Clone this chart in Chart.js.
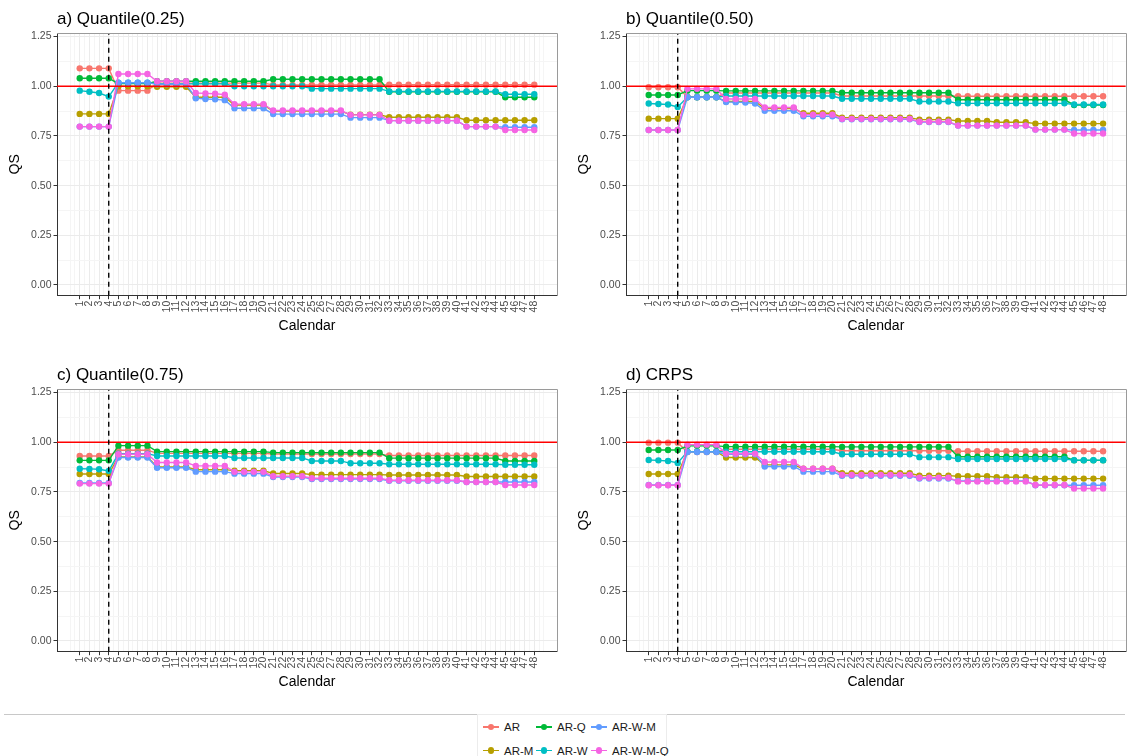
<!DOCTYPE html>
<html>
<head>
<meta charset="utf-8">
<script src="https://cdn.jsdelivr.net/npm/chart.js@4.4.1/dist/chart.umd.min.js"></script>
<style>
  body { margin: 0; width: 1129px; height: 756px; overflow: hidden; background: #fff; position: relative;
         font-family: "Liberation Sans", Arial, Helvetica, sans-serif; }
  .panel { position: absolute; }
  #rule { position: absolute; left: 4px; top: 714px; width: 1121px; border-top: 1px solid #c8c8c8; }
  #legend { position: absolute; left: 477px; top: 714px; width: 190px; height: 60px; background: #fff;
            border: 1px solid #ececec; box-sizing: border-box; }
  .item { position: absolute; height: 14px; font-size: 11.5px; color: #1a1a1a; line-height: 14px; white-space: nowrap; }
  .key { position: absolute; top: 0; width: 16px; height: 14px; }
  .key .ln { position: absolute; left: 0; right: 0; top: 6.3px; height: 1.4px; }
  .key .dot { position: absolute; left: 4.8px; top: 3.8px; width: 6.4px; height: 6.4px; border-radius: 50%; }
</style>
</head>
<body>
<div class="panel" style="left:0;top:0"><canvas id="panelA" width="565" height="345"></canvas></div>
<div class="panel" style="left:569px;top:0"><canvas id="panelB" width="560" height="345"></canvas></div>
<div class="panel" style="left:0;top:356px"><canvas id="panelC" width="565" height="345"></canvas></div>
<div class="panel" style="left:569px;top:356px"><canvas id="panelD" width="560" height="345"></canvas></div>
<div id="rule"></div>
<div id="legend"></div>
<script>
const calendar = [1,2,3,4,5,6,7,8,9,10,11,12,13,14,15,16,17,18,19,20,21,22,23,24,
                  25,26,27,28,29,30,31,32,33,34,35,36,37,38,39,40,41,42,43,44,45,46,47,48];
const seriesNames = ['AR', 'AR-M', 'AR-Q', 'AR-W', 'AR-W-M', 'AR-W-M-Q'];
const seriesColors = ['#F8766D', '#B79F00', '#00BA38', '#00BFC4', '#619CFF', '#F564E3'];
const yTickLabels = ['0.00', '0.25', '0.50', '0.75', '1.00', '1.25'];
const switchPoint = 4;
const reference = 1;

// a) Quantile(0.25)
const q25AR = [1.09,1.09,1.09,1.09, 0.978,0.978,0.978,0.978, 1.016,1.016,1.016,1.016, 1.016,1.016,1.016,1.016, 1.016,1.016,1.016,1.016,
  1.007,1.007,1.007,1.007, 1.007,1.007,1.007,1.007, 1.007,1.007,1.007,1.007, 1.008,1.008,1.008,1.008, 1.008,1.008,1.008,1.008,
  1.008,1.008,1.008,1.008, 1.008,1.008,1.008,1.008];
const q25ARM = [0.861,0.861,0.861,0.861, 1.0,1.0,1.0,1.0, 0.997,0.997,0.997,0.997, 0.945,0.945,0.945,0.945, 0.906,0.906,0.906,0.906,
  0.875,0.875,0.875,0.875, 0.875,0.875,0.875,0.875, 0.857,0.857,0.857,0.857, 0.844,0.844,0.844,0.844, 0.844,0.844,0.844,0.844,
  0.829,0.829,0.829,0.829, 0.829,0.829,0.829,0.829];
const q25ARQ = [1.04,1.04,1.04,1.04, 1.013,1.013,1.013,1.013, 1.025,1.025,1.025,1.025, 1.025,1.025,1.025,1.025, 1.025,1.025,1.025,1.025,
  1.035,1.035,1.035,1.035, 1.035,1.035,1.035,1.035, 1.035,1.035,1.035,1.035, 0.972,0.972,0.972,0.972, 0.972,0.972,0.972,0.972,
  0.972,0.972,0.972,0.972, 0.945,0.945,0.945,0.945];
const q25ARW = [0.978,0.972,0.966,0.948, 1.018,1.018,1.018,1.018, 1.012,1.012,1.012,1.012, 1.012,1.012,1.012,1.012, 1.0,1.0,1.0,1.0,
  1.0,1.0,1.0,1.0, 0.988,0.988,0.988,0.988, 0.988,0.988,0.988,0.988, 0.974,0.974,0.974,0.974, 0.974,0.974,0.974,0.974,
  0.974,0.974,0.974,0.974, 0.96,0.96,0.96,0.96];
const q25ARWM = [0.797,0.797,0.797,0.797, 1.018,1.018,1.018,1.018, 1.01,1.01,1.01,1.01, 0.94,0.936,0.934,0.93, 0.889,0.889,0.889,0.889,
  0.86,0.86,0.86,0.86, 0.86,0.86,0.86,0.86, 0.842,0.842,0.842,0.842, 0.827,0.827,0.827,0.827, 0.827,0.827,0.827,0.827,
  0.797,0.797,0.797,0.797, 0.794,0.794,0.794,0.794];
const q25ARWMQ = [0.797,0.797,0.797,0.797, 1.062,1.062,1.062,1.062, 1.025,1.025,1.025,1.025, 0.966,0.964,0.962,0.958, 0.91,0.91,0.91,0.91,
  0.878,0.878,0.878,0.878, 0.878,0.878,0.878,0.878, 0.856,0.856,0.856,0.856, 0.827,0.827,0.827,0.827, 0.827,0.827,0.827,0.827,
  0.797,0.797,0.797,0.797, 0.78,0.78,0.78,0.78];

// b) Quantile(0.50)
const q50AR = [0.995,0.995,0.995,0.995, 0.946,0.946,0.946,0.946, 0.966,0.966,0.966,0.966, 0.966,0.966,0.966,0.966, 0.966,0.966,0.966,0.966,
  0.951,0.951,0.951,0.951, 0.951,0.951,0.951,0.951, 0.951,0.951,0.951,0.951, 0.95,0.95,0.95,0.95, 0.95,0.95,0.95,0.95,
  0.95,0.95,0.95,0.95, 0.95,0.95,0.95,0.95];
const q50ARM = [0.837,0.837,0.837,0.837, 0.945,0.945,0.945,0.945, 0.923,0.923,0.923,0.923, 0.888,0.888,0.888,0.888, 0.864,0.864,0.864,0.864,
  0.842,0.842,0.842,0.842, 0.842,0.842,0.842,0.842, 0.832,0.832,0.832,0.832, 0.825,0.825,0.825,0.825, 0.819,0.819,0.819,0.819,
  0.812,0.812,0.812,0.812, 0.812,0.812,0.812,0.812];
const q50ARQ = [0.956,0.956,0.956,0.956, 0.978,0.978,0.978,0.978, 0.977,0.977,0.977,0.977, 0.977,0.977,0.977,0.977, 0.977,0.977,0.977,0.977,
  0.967,0.967,0.967,0.967, 0.967,0.967,0.967,0.967, 0.967,0.967,0.967,0.967, 0.932,0.932,0.932,0.932, 0.932,0.932,0.932,0.932,
  0.932,0.932,0.932,0.932, 0.906,0.906,0.906,0.906];
const q50ARW = [0.913,0.911,0.908,0.896, 0.945,0.945,0.945,0.945, 0.951,0.951,0.951,0.951, 0.951,0.951,0.951,0.951, 0.951,0.951,0.951,0.951,
  0.937,0.937,0.937,0.937, 0.937,0.937,0.937,0.937, 0.923,0.923,0.923,0.923, 0.914,0.914,0.914,0.914, 0.914,0.914,0.914,0.914,
  0.914,0.914,0.914,0.914, 0.908,0.908,0.908,0.908];
const q50ARWM = [0.78,0.78,0.78,0.78, 0.945,0.945,0.945,0.945, 0.921,0.92,0.918,0.913, 0.877,0.877,0.877,0.877, 0.849,0.849,0.849,0.849,
  0.834,0.834,0.834,0.834, 0.834,0.834,0.834,0.834, 0.82,0.82,0.82,0.82, 0.802,0.802,0.802,0.802, 0.802,0.802,0.802,0.802,
  0.782,0.782,0.782,0.782, 0.78,0.78,0.78,0.78];
const q50ARWMQ = [0.78,0.78,0.78,0.78, 0.987,0.987,0.987,0.987, 0.936,0.936,0.936,0.936, 0.893,0.893,0.893,0.893, 0.857,0.857,0.857,0.857,
  0.836,0.836,0.836,0.836, 0.836,0.836,0.836,0.836, 0.822,0.822,0.822,0.822, 0.802,0.802,0.802,0.802, 0.802,0.802,0.802,0.802,
  0.782,0.782,0.782,0.782, 0.762,0.762,0.762,0.762];

// c) Quantile(0.75)
const q75AR = [0.931,0.931,0.931,0.931, 0.96,0.96,0.96,0.96, 0.944,0.944,0.944,0.944, 0.944,0.944,0.944,0.944, 0.944,0.944,0.944,0.944,
  0.941,0.941,0.941,0.941, 0.941,0.941,0.941,0.941, 0.941,0.941,0.941,0.941, 0.933,0.933,0.933,0.933, 0.933,0.933,0.933,0.933,
  0.933,0.933,0.933,0.933, 0.933,0.933,0.933,0.933];
const q75ARM = [0.84,0.84,0.84,0.84, 0.926,0.926,0.926,0.926, 0.876,0.876,0.876,0.876, 0.862,0.862,0.862,0.862, 0.857,0.857,0.857,0.857,
  0.843,0.843,0.843,0.843, 0.837,0.837,0.837,0.837, 0.837,0.837,0.837,0.837, 0.835,0.835,0.835,0.835, 0.835,0.835,0.835,0.835,
  0.828,0.828,0.828,0.828, 0.828,0.828,0.828,0.828];
const q75ARQ = [0.909,0.909,0.909,0.909, 0.983,0.983,0.983,0.983, 0.953,0.953,0.953,0.953, 0.953,0.953,0.953,0.953, 0.953,0.953,0.953,0.953,
  0.948,0.948,0.948,0.948, 0.948,0.948,0.948,0.948, 0.948,0.948,0.948,0.948, 0.92,0.92,0.92,0.92, 0.92,0.92,0.92,0.92,
  0.92,0.92,0.92,0.92, 0.906,0.906,0.906,0.906];
const q75ARW = [0.867,0.866,0.864,0.856, 0.943,0.943,0.943,0.943, 0.931,0.931,0.931,0.931, 0.931,0.931,0.931,0.931, 0.921,0.921,0.921,0.921,
  0.921,0.921,0.921,0.921, 0.906,0.906,0.906,0.906, 0.894,0.894,0.894,0.894, 0.889,0.889,0.889,0.889, 0.889,0.889,0.889,0.889,
  0.889,0.889,0.889,0.889, 0.887,0.887,0.887,0.887];
const q75ARWM = [0.795,0.795,0.795,0.795, 0.923,0.923,0.923,0.923, 0.872,0.872,0.872,0.872, 0.852,0.852,0.852,0.852, 0.842,0.842,0.842,0.842,
  0.825,0.825,0.825,0.825, 0.815,0.815,0.815,0.815, 0.815,0.815,0.815,0.815, 0.806,0.806,0.806,0.806, 0.806,0.806,0.806,0.806,
  0.8,0.8,0.8,0.8, 0.8,0.8,0.8,0.8];
const q75ARWMQ = [0.792,0.792,0.792,0.792, 0.94,0.94,0.94,0.94, 0.898,0.898,0.898,0.898, 0.881,0.881,0.881,0.881, 0.851,0.851,0.851,0.851,
  0.829,0.829,0.829,0.829, 0.819,0.819,0.819,0.819, 0.819,0.819,0.819,0.819, 0.809,0.809,0.809,0.809, 0.809,0.809,0.809,0.809,
  0.8,0.8,0.8,0.8, 0.785,0.785,0.785,0.785];

// d) CRPS
const crpsAR = [0.998,0.998,0.998,0.998, 0.951,0.951,0.951,0.951, 0.965,0.965,0.965,0.965, 0.965,0.965,0.965,0.965, 0.965,0.965,0.965,0.965,
  0.957,0.957,0.957,0.957, 0.957,0.957,0.957,0.957, 0.957,0.957,0.957,0.957, 0.955,0.955,0.955,0.955, 0.955,0.955,0.955,0.955,
  0.955,0.955,0.955,0.955, 0.955,0.955,0.955,0.955];
const crpsARM = [0.84,0.84,0.84,0.84, 0.953,0.953,0.953,0.953, 0.923,0.923,0.923,0.923, 0.886,0.886,0.886,0.886, 0.867,0.867,0.867,0.867,
  0.844,0.844,0.844,0.844, 0.844,0.844,0.844,0.844, 0.832,0.832,0.832,0.832, 0.829,0.829,0.829,0.829, 0.824,0.824,0.824,0.824,
  0.817,0.817,0.817,0.817, 0.817,0.817,0.817,0.817];
const crpsARQ = [0.961,0.961,0.961,0.961, 0.982,0.982,0.982,0.982, 0.978,0.978,0.978,0.978, 0.978,0.978,0.978,0.978, 0.978,0.978,0.978,0.978,
  0.977,0.977,0.977,0.977, 0.977,0.977,0.977,0.977, 0.977,0.977,0.977,0.977, 0.927,0.927,0.927,0.927, 0.927,0.927,0.927,0.927,
  0.927,0.927,0.927,0.927, 0.909,0.909,0.909,0.909];
const crpsARW = [0.911,0.909,0.906,0.896, 0.953,0.953,0.953,0.953, 0.952,0.952,0.952,0.952, 0.952,0.952,0.952,0.952, 0.952,0.952,0.952,0.952,
  0.94,0.94,0.94,0.94, 0.94,0.94,0.94,0.94, 0.925,0.925,0.925,0.925, 0.916,0.916,0.916,0.916, 0.916,0.916,0.916,0.916,
  0.916,0.916,0.916,0.916, 0.91,0.91,0.91,0.91];
const crpsARWM = [0.785,0.785,0.785,0.785, 0.951,0.951,0.951,0.951, 0.94,0.94,0.94,0.94, 0.878,0.878,0.878,0.878, 0.852,0.852,0.852,0.852,
  0.831,0.831,0.831,0.831, 0.831,0.831,0.831,0.831, 0.817,0.817,0.817,0.817, 0.805,0.805,0.805,0.805, 0.805,0.805,0.805,0.805,
  0.784,0.784,0.784,0.784, 0.784,0.784,0.784,0.784];
const crpsARWMQ = [0.784,0.784,0.784,0.784, 0.988,0.988,0.988,0.988, 0.943,0.943,0.943,0.943, 0.901,0.901,0.901,0.901, 0.867,0.867,0.867,0.867,
  0.836,0.836,0.836,0.836, 0.836,0.836,0.836,0.836, 0.822,0.822,0.822,0.822, 0.803,0.803,0.803,0.803, 0.803,0.803,0.803,0.803,
  0.785,0.785,0.785,0.785, 0.767,0.767,0.767,0.767];

const FONT = '"Liberation Sans", Arial, Helvetica, sans-serif';
const X_MIN = -1.35, X_MAX = 50.35;
const Y_MIN = -0.054, Y_MAX = 1.268;

// title drawn above the panel, flush with the plot's left edge
const panelTitle = {
  id: 'panelTitle',
  afterDraw(chart, args, opts) {
    const c = chart.ctx;
    c.save();
    c.font = '17px ' + FONT;
    c.fillStyle = '#000';
    c.textBaseline = 'alphabetic';
    c.fillText(opts.text, chart.chartArea.left, chart.chartArea.top - 9.5);
    c.restore();
  }
};

// grey panel frame on top and right (left/bottom come from the axis borders)
const panelFrame = {
  id: 'panelFrame',
  afterDraw(chart) {
    const { left, right, top, bottom } = chart.chartArea;
    const c = chart.ctx;
    c.save();
    c.strokeStyle = '#9a9a9a';
    c.lineWidth = 1;
    c.beginPath();
    c.moveTo(Math.round(left), Math.round(top) + 0.5);
    c.lineTo(Math.round(right) + 0.5, Math.round(top) + 0.5);
    c.lineTo(Math.round(right) + 0.5, Math.round(bottom));
    c.stroke();
    c.restore();
  }
};

const xTicks = [];
for (let v = 0; v <= 49; v += 0.5) xTicks.push(v);
const yTicks = [];
for (let v = 0; v <= 1.25001; v += 0.125) yTicks.push(Math.round(v * 1000) / 1000);

const isXMajor = v => calendar.includes(v);
const isYMajor = v => Math.abs(v * 4 - Math.round(v * 4)) < 1e-6;

function makePanel(id, title, values) {
  const datasets = values.map((vals, i) => ({
    label: seriesNames[i],
    data: calendar.map((c, j) => ({ x: c, y: vals[j] })),
    borderColor: seriesColors[i],
    backgroundColor: seriesColors[i],
    borderWidth: 1.4,
    pointRadius: 3.2,
    pointBorderWidth: 0,
    pointHoverRadius: 3.2,
    tension: 0,
    order: 10 - i
  }));
  datasets.push({
    label: 'ref',
    data: [{ x: X_MIN, y: reference }, { x: X_MAX, y: reference }],
    borderColor: '#FF0000', borderWidth: 1.3, pointRadius: 0, order: 1
  });
  datasets.push({
    label: 'switch',
    data: [{ x: switchPoint, y: Y_MIN }, { x: switchPoint, y: Y_MAX }],
    borderColor: '#000', borderWidth: 1.4, borderDash: [5, 4], pointRadius: 0, order: 0
  });

  const canvas = document.getElementById(id);
  return new Chart(canvas, {
    type: 'line',
    data: { datasets },
    options: {
      responsive: false,
      animation: false,
      events: [],
      layout: { padding: { top: 33, right: canvas.width - 557, left: 0, bottom: 0 } },
      plugins: {
        legend: { display: false },
        tooltip: { enabled: false },
        panelTitle: { text: title }
      },
      scales: {
        x: {
          type: 'linear', min: X_MIN, max: X_MAX,
          afterBuildTicks: s => { s.ticks = xTicks.map(v => ({ value: v })); },
          afterFit: s => { s.height = 49.3; },
          border: { display: true, color: '#333', width: 1 },
          grid: {
            color: c => isXMajor(c.tick.value) ? '#ebebeb' : '#f5f5f5',
            tickColor: c => isXMajor(c.tick.value) ? '#333' : 'rgba(0,0,0,0)',
            tickLength: 3.5, lineWidth: 1
          },
          ticks: {
            autoSkip: false, minRotation: 90, maxRotation: 90, padding: 1.5,
            color: '#4d4d4d', font: { family: FONT, size: 10.5 },
            callback: v => isXMajor(v) ? String(v) : ''
          },
          title: { display: true, text: 'Calendar', color: '#000', font: { family: FONT, size: 14 },
                   padding: { top: 0, bottom: 10.6 } }
        },
        y: {
          type: 'linear', min: Y_MIN, max: Y_MAX,
          afterBuildTicks: s => { s.ticks = yTicks.map(v => ({ value: v })); },
          afterFit: s => { s.width = 57; },
          border: { display: true, color: '#333', width: 1 },
          grid: {
            color: c => isYMajor(c.tick.value) ? '#ebebeb' : '#f5f5f5',
            tickColor: c => isYMajor(c.tick.value) ? '#333' : 'rgba(0,0,0,0)',
            tickLength: 3.5, lineWidth: 1
          },
          ticks: {
            padding: 2, color: '#4d4d4d', font: { family: FONT, size: 10.5 },
            callback: v => isYMajor(v) ? yTickLabels[Math.round(v * 4)] : ''
          },
          title: { display: true, text: 'QS', color: '#000', font: { family: FONT, size: 14 },
                   padding: { top: 7, bottom: 0 } }
        }
      }
    },
    plugins: [panelTitle, panelFrame]
  });
}

makePanel('panelA', 'a) Quantile(0.25)', [q25AR, q25ARM, q25ARQ, q25ARW, q25ARWM, q25ARWMQ]);
makePanel('panelB', 'b) Quantile(0.50)', [q50AR, q50ARM, q50ARQ, q50ARW, q50ARWM, q50ARWMQ]);
makePanel('panelC', 'c) Quantile(0.75)', [q75AR, q75ARM, q75ARQ, q75ARW, q75ARWM, q75ARWMQ]);
makePanel('panelD', 'd) CRPS', [crpsAR, crpsARM, crpsARQ, crpsARW, crpsARWM, crpsARWMQ]);

// legend: two rows, filled column by column
const legend = document.getElementById('legend');
const colLefts = [5, 58, 113];
const rowTops = [5, 28.5];
seriesNames.forEach((name, i) => {
  const col = Math.floor(i / 2), row = i % 2;
  const item = document.createElement('div');
  item.className = 'item';
  item.style.left = colLefts[col] + 'px';
  item.style.top = rowTops[row] + 'px';
  item.innerHTML = '<span class="key"><span class="ln"></span><span class="dot"></span></span>' +
                   '<span style="position:absolute;left:21px;top:0">' + name + '</span>';
  item.querySelector('.ln').style.background = seriesColors[i];
  item.querySelector('.dot').style.background = seriesColors[i];
  legend.appendChild(item);
});
</script>
</body>
</html>
